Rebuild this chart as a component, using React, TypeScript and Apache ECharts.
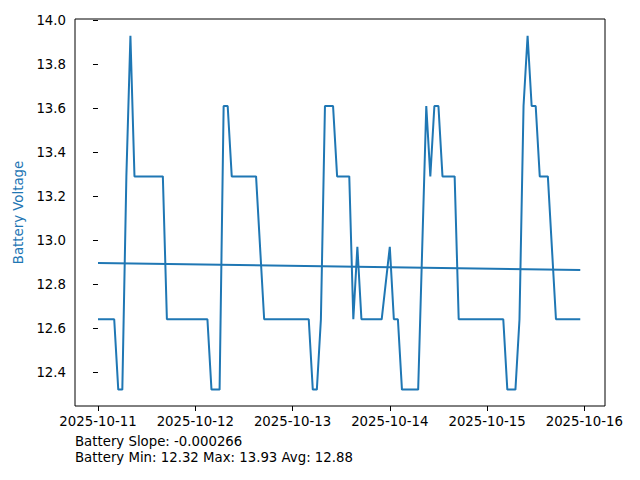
import React, { useEffect, useRef } from "react";
import * as echarts from "echarts";

// Hours since 2025-10-11 00:00 at each vertex of the voltage trace
const hours = [0, 4, 5, 6, 7, 8, 9, 16, 17, 27, 28, 30, 31, 32, 33, 39, 41, 52, 53, 54, 55, 56, 58, 59, 62, 63, 64, 65, 70, 72, 73, 74, 75, 79, 81, 82, 83, 84, 85, 88, 89, 100, 101, 103, 104, 105, 106, 107, 108, 109, 111, 113, 119];
const volts = [12.64, 12.64, 12.32, 12.32, 13.29, 13.93, 13.29, 13.29, 12.64, 12.64, 12.32, 12.32, 13.61, 13.61, 13.29, 13.29, 12.64, 12.64, 12.32, 12.32, 12.64, 13.61, 13.61, 13.29, 13.29, 12.64, 12.97, 12.64, 12.64, 12.97, 12.64, 12.64, 12.32, 12.32, 13.61, 13.29, 13.61, 13.61, 13.29, 13.29, 12.64, 12.64, 12.32, 12.32, 12.64, 13.61, 13.93, 13.61, 13.61, 13.29, 13.29, 12.64, 12.64];

// Linear trend line endpoints
const trendHours = [0, 119];
const trendVolts = [12.896, 12.864];

// Tick labels
const xTickHours = [0, 24, 48, 72, 96, 120];
const xTickLabels = ["2025-10-11", "2025-10-12", "2025-10-13", "2025-10-14", "2025-10-15", "2025-10-16"];
const yTicks = [12.4, 12.6, 12.8, 13.0, 13.2, 13.4, 13.6, 13.8, 14.0];

const footerLines = ["Battery Slope: -0.000266", "Battery Min: 12.32 Max: 13.93 Avg: 12.88"];

const BLUE = "#1f77b4";
const FONT = "DejaVu Sans";
const FS = 13.3;

export default function App() {
  const ref = useRef<HTMLDivElement>(null);
  useEffect(() => {
    if (!ref.current) return;
    const chart = echarts.init(ref.current, undefined, { renderer: "svg" });
    chart.setOption({
      animation: false,
      backgroundColor: "#fff",
      grid: { left: 75, right: 35, top: 19, bottom: 74, show: true, borderColor: "#000", borderWidth: 1, backgroundColor: "transparent" },
      xAxis: {
        type: "value",
        min: -5.675,
        max: 125.1,
        splitLine: { show: false },
        axisLine: { show: false },
        axisTick: { show: true, inside: false, length: 5, customValues: xTickHours, lineStyle: { color: "#000", width: 1 } },
        axisLabel: {
          customValues: xTickHours,
          margin: 9,
          color: "#000",
          fontFamily: FONT,
          fontSize: FS,
          formatter: (v: number) => {
            const i = xTickHours.indexOf(Math.round(v));
            return i >= 0 ? xTickLabels[i] : "";
          },
        },
      },
      yAxis: {
        type: "value",
        min: 12.2455,
        max: 14.006,
        splitLine: { show: false },
        axisLine: { show: false },
        axisTick: { show: true, inside: false, length: 5, customValues: yTicks, lineStyle: { color: "#000", width: 1 } },
        axisLabel: {
          customValues: yTicks,
          margin: 9,
          color: "#000",
          fontFamily: FONT,
          fontSize: FS,
          formatter: (v: number) => v.toFixed(1),
        },
        name: "Battery Voltage",
        nameLocation: "middle",
        nameGap: 45,
        nameRotate: 90,
        nameTextStyle: { color: BLUE, fontFamily: FONT, fontSize: FS },
      },
      series: [
        {
          type: "line",
          data: hours.map((h, i) => [h, volts[i]]),
          showSymbol: false,
          symbol: "none",
          lineStyle: { color: BLUE, width: 2 },
          itemStyle: { color: BLUE },
        },
        {
          type: "line",
          data: trendHours.map((h, i) => [h, trendVolts[i]]),
          showSymbol: false,
          symbol: "none",
          lineStyle: { color: BLUE, width: 2 },
          itemStyle: { color: BLUE },
        },
      ],
      graphic: footerLines.map((t, i) => ({
        type: "text",
        x: 75,
        y: 441.7 + i * 15.8,
        style: { text: t, fill: "#000", font: `${FS}px "${FONT}"`, verticalAlign: "middle", align: "left" },
      })),
    });
    return () => chart.dispose();
  }, []);
  return <div ref={ref} style={{ position: "fixed", left: 0, top: 0, width: 640, height: 480 }} />;
}
